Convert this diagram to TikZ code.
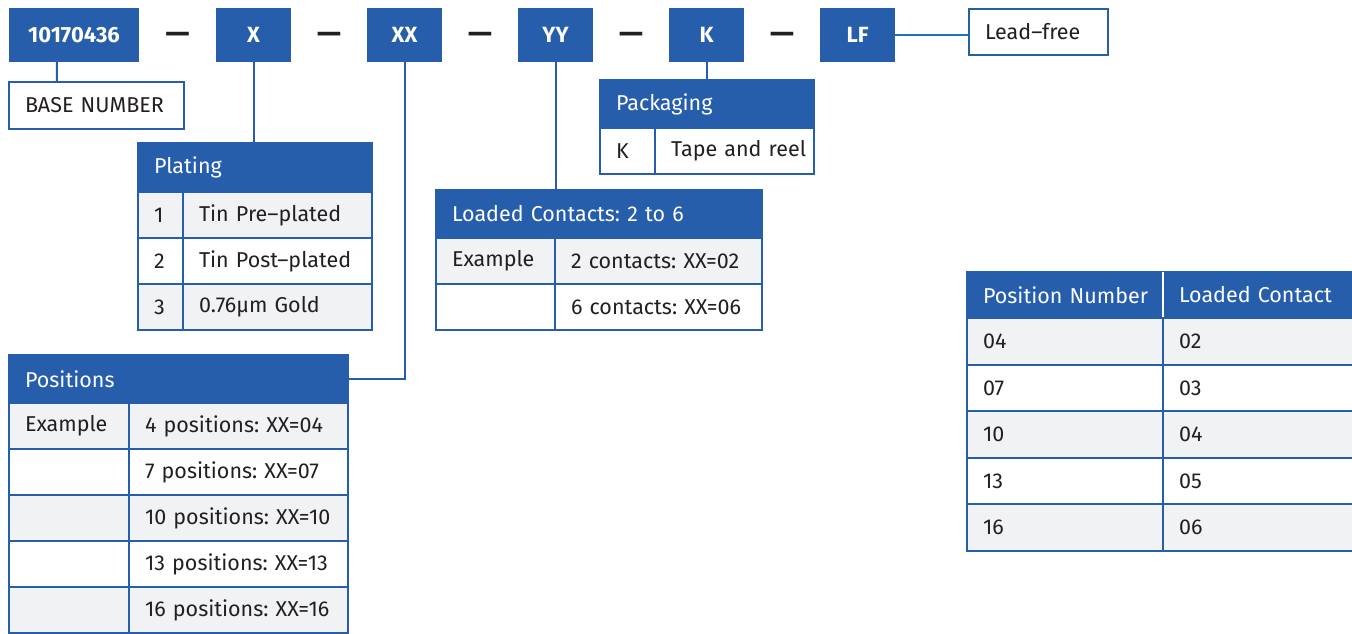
\documentclass[tikz,border=0pt]{standalone}
\usepackage{fontspec}
\setmainfont{Fira Sans}
\usepackage{tikz}
\frenchspacing
\definecolor{hdblue}{HTML}{265EAB}
\definecolor{rowgrey}{HTML}{F1F2F4}
\definecolor{leadblue}{HTML}{1B75BC}
\definecolor{inkgrey}{HTML}{231F20}
\tikzstyle{line} = [draw=hdblue, line width=2pt]
\tikzstyle{code} = [rectangle, fill=hdblue, text=white, minimum width=75pt, minimum height=54pt, inner sep=0pt, font=\bfseries\fontsize{22}{26}\selectfont]
\tikzstyle{sep_dash} = [text=inkgrey, inner sep=0pt, yshift=-3pt, font=\bfseries\fontsize{30}{34}\selectfont]
\tikzstyle{cell} = [rectangle, draw=hdblue, line width=2pt, anchor=north west, outer sep=0pt, inner xsep=16pt, inner ysep=0pt, minimum height=46pt, align=left, text=inkgrey, font=\fontsize{21.5}{25}\selectfont, execute at begin node={\hbox to\linewidth\bgroup}, execute at end node={\hss\egroup}]
\tikzstyle{grey} = [cell, fill=rowgrey]
\tikzstyle{head} = [cell, fill=hdblue, text=white, minimum height=48pt]
\tikzstyle{lbl} = [cell, fill=white, minimum height=47pt]

\begin{document}
\begin{tikzpicture}[x=1pt, y=-1pt]
			\useasboundingbox (0,0) rectangle (1352,633);
			% part number codes
			\node [code, minimum width=130pt] (base_code) at (74,35) {10170436};
			\node [code] (x_code) at (253.5,35) {X};
			\node [code, right of=x_code, node distance=151pt] (xx_code) {XX};
			\node [code, right of=xx_code, node distance=151pt] (yy_code) {YY};
			\node [code, right of=yy_code, node distance=151pt] (k_code) {K};
			\node [code, right of=k_code, node distance=151pt] (lf_code) {LF};
			
			\node [sep_dash] (dash_a) at (177.5,35) {---};
			\node [sep_dash, right of=x_code, node distance=75.5pt] (dash_b) {---};
			\node [sep_dash, right of=xx_code, node distance=75.5pt] (dash_c) {---};
			\node [sep_dash, right of=yy_code, node distance=75.5pt] (dash_d) {---};
			\node [sep_dash, right of=k_code, node distance=75.5pt] (dash_e) {---};
			
			\node [lbl, text width=143pt] (base_lbl) at (9,82) {BASE NUMBER};
			\node [lbl, minimum height=46pt, text width=107pt] (lf_lbl) at (969,9) {Lead--free};
			
			% plating
			\node [head, text width=202pt] (plat_head) at (138,143) {Plating};
			\node [grey, text width=13pt] (plat_1) at (138,192) {1};
			\node [grey, text width=157pt] (plat_1t) at (183,192) {Tin Pre--plated};
			\node [cell, text width=13pt] (plat_2) at (138,238) {2};
			\node [cell, text width=157pt] (plat_2t) at (183,238) {Tin Post--plated};
			\node [grey, text width=13pt] (plat_3) at (138,284) {3};
			\node [grey, text width=157pt] (plat_3t) at (183,284) {0.76µm Gold};
			
			% positions
			\node [head, text width=307pt] (pos_head) at (9,355) {Positions};
			\node [grey, text width=88pt] (pos_1) at (9,403) {Example};
			\node [grey, text width=187pt] (pos_1t) at (129,403) {4 positions: XX=04};
			\node [cell, text width=88pt] (pos_2) at (9,449) {};
			\node [cell, text width=187pt] (pos_2t) at (129,449) {7 positions: XX=07};
			\node [grey, text width=88pt] (pos_3) at (9,495) {};
			\node [grey, text width=187pt] (pos_3t) at (129,495) {10 positions: XX=10};
			\node [cell, text width=88pt] (pos_4) at (9,541) {};
			\node [cell, text width=187pt] (pos_4t) at (129,541) {13 positions: XX=13};
			\node [grey, text width=88pt] (pos_5) at (9,587) {};
			\node [grey, text width=187pt] (pos_5t) at (129,587) {16 positions: XX=16};
			
			% loaded contacts
			\node [head, text width=294pt] (lc_head) at (436,190) {Loaded Contacts: 2 to 6};
			\node [grey, text width=87pt] (lc_1) at (436,238) {Example};
			\node [grey, text width=175pt] (lc_1t) at (555,238) {2 contacts: XX=02};
			\node [cell, text width=87pt] (lc_2) at (436,284) {};
			\node [cell, text width=175pt] (lc_2t) at (555,284) {6 contacts: XX=06};
			
			% packaging
			\node [head, text width=182pt] (pack_head) at (600,80) {Packaging};
			\node [cell, text width=23pt] (pack_1) at (600,128) {K};
			\node [cell, text width=127pt] (pack_1t) at (655,128) {Tape and reel};
			
			% position number vs loaded contact
			\node [head, minimum height=46pt, text width=164pt] (pn_head) at (967,272) {Position Number};
			\node [head, minimum height=46pt, text width=168pt] (ld_head) at (1163,272) {Loaded Contact};
			\draw [white, line width=2pt] (pn_head.north east) -- (pn_head.south east);
			\node [grey, minimum height=46.6pt, text width=164pt] (pn_1) at (967,318) {04};
			\node [grey, minimum height=46.6pt, text width=168pt] (ld_1) at (1163,318) {02};
			\node [cell, minimum height=46.6pt, text width=164pt] (pn_2) at (967,364.6) {07};
			\node [cell, minimum height=46.6pt, text width=168pt] (ld_2) at (1163,364.6) {03};
			\node [grey, minimum height=46.6pt, text width=164pt] (pn_3) at (967,411.2) {10};
			\node [grey, minimum height=46.6pt, text width=168pt] (ld_3) at (1163,411.2) {04};
			\node [cell, minimum height=46.6pt, text width=164pt] (pn_4) at (967,457.8) {13};
			\node [cell, minimum height=46.6pt, text width=168pt] (ld_4) at (1163,457.8) {05};
			\node [grey, minimum height=46.6pt, text width=164pt] (pn_5) at (967,504.4) {16};
			\node [grey, minimum height=46.6pt, text width=168pt] (ld_5) at (1163,504.4) {06};
			
			% connectors
			\path [line] ([xshift=48pt]base_code.south west) to ([xshift=48pt]base_lbl.north west);
			\path [line] (x_code.south) to (x_code.south |- plat_head.north);
			\path [line] (xx_code.south) -- (xx_code.south |- pos_head.east) -- (pos_head.east);
			\path [line] (yy_code.south) to (yy_code.south |- lc_head.north);
			\path [line] (k_code.south) to (k_code.south |- pack_head.north);
			\draw [leadblue, line width=2pt] (lf_code.east) -- (lf_code.east -| lf_lbl.west);
		\end{tikzpicture}
\end{document}
